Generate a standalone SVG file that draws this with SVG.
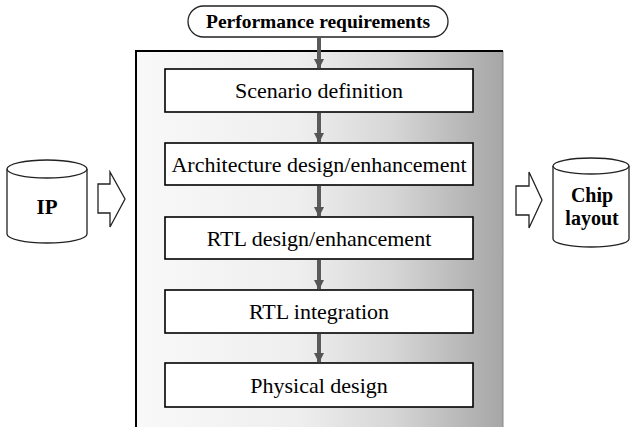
<svg xmlns="http://www.w3.org/2000/svg" width="631" height="427" viewBox="0 0 631 427">
<defs>
<linearGradient id="shade" x1="0" y1="0" x2="1" y2="0">
<stop offset="0" stop-color="#f9f9f9"/>
<stop offset="0.45" stop-color="#eeeeee"/>
<stop offset="0.7" stop-color="#d6d6d6"/>
<stop offset="1" stop-color="#a6a6a6"/>
</linearGradient>
<marker id="ah" viewBox="0 0 10 10" refX="9" refY="5" markerWidth="2.6" markerHeight="2.6" orient="auto" markerUnits="strokeWidth">
<path d="M0,0 L10,5 L0,10 z" fill="#555"/>
</marker>
<style>
.box{fill:#fff;stroke:#000;stroke-width:1.6}
.lbl{font-size:22px;fill:#000;text-anchor:middle}
.bold{font-weight:bold;fill:#000;text-anchor:middle}
.outline{fill:#fff;stroke:#222;stroke-width:1.3}
.flow{stroke:#5a5a5a;stroke-width:4;fill:none;marker-end:url(#ah)}
</style>
</defs>
<rect width="631" height="427" fill="#fff"/>
<g id="container">
<rect x="136" y="51" width="367" height="376" fill="url(#shade)"/>
<line x1="503" y1="51" x2="503" y2="427" stroke="#888" stroke-width="1"/>
<path d="M136,427 L136,51 L503,51" fill="none" stroke="#000" stroke-width="2"/>
</g>
<g font-family="Liberation Serif, DejaVu Serif, serif">
<g id="perf">
<rect class="outline" x="188" y="6" width="260" height="31" rx="15.5"/>
<text class="bold" x="318" y="28" font-size="19.5">Performance requirements</text>
</g>
<g id="scenario">
<rect class="box" x="165" y="69" width="308" height="43"/>
<text class="lbl" x="319" y="98">Scenario definition</text>
</g>
<g id="arch">
<rect class="box" x="165" y="143" width="308" height="42"/>
<text class="lbl" x="319" y="172">Architecture design/enhancement</text>
</g>
<g id="rtl-design">
<rect class="box" x="165" y="217" width="308" height="42"/>
<text class="lbl" x="319" y="246">RTL design/enhancement</text>
</g>
<g id="rtl-int">
<rect class="box" x="165" y="290" width="308" height="43"/>
<text class="lbl" x="319" y="319">RTL integration</text>
</g>
<g id="physical">
<rect class="box" x="165" y="363" width="308" height="44"/>
<text class="lbl" x="319" y="393">Physical design</text>
</g>
<g id="ip">
<path class="outline" d="M7,169 L7,234 A40,9 0 0 0 87,234 L87,169"/>
<ellipse class="outline" cx="47" cy="169" rx="40" ry="9"/>
<text class="bold" x="47" y="214" font-size="21">IP</text>
</g>
<g id="chip">
<path class="outline" d="M553,166 L553,239 A38,8 0 0 0 629,239 L629,166"/>
<ellipse class="outline" cx="591" cy="166" rx="38" ry="8"/>
<text class="bold" x="592" y="202" font-size="20">Chip</text>
<text class="bold" x="592" y="225" font-size="20">layout</text>
</g>
</g>
<g id="connectors">
<line class="flow" x1="319" y1="38" x2="319" y2="68"/>
<line class="flow" x1="319" y1="113" x2="319" y2="142"/>
<line class="flow" x1="319" y1="186" x2="319" y2="216"/>
<line class="flow" x1="319" y1="260" x2="319" y2="289"/>
<line class="flow" x1="319" y1="334" x2="319" y2="362"/>
<path class="outline" d="M98,184 L110,184 L110,172 L125,199 L110,227 L110,213 L98,213 Z"/>
<path class="outline" d="M516,186 L529,186 L529,172 L542,200 L529,228 L529,215 L516,215 Z"/>
</g>
</svg>
